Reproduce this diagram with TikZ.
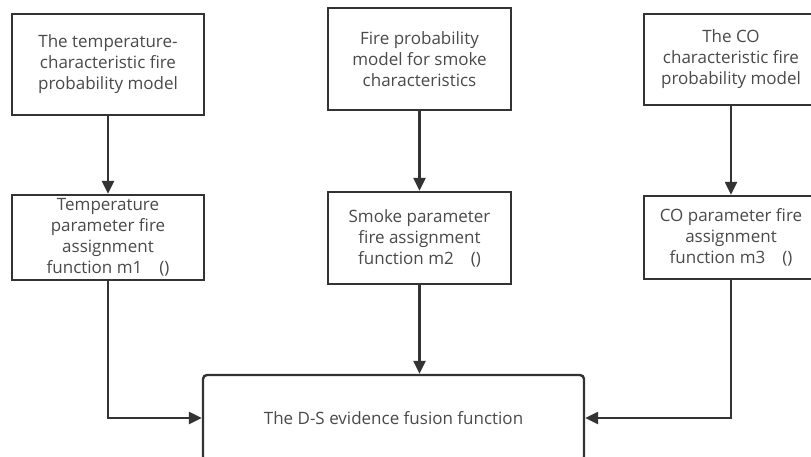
\documentclass[tikz,border=0pt]{standalone}
\usepackage{fontspec}
\setmainfont{Open Sans}
\usepackage{tikz}
\usetikzlibrary{arrows.meta,positioning,calc}

\definecolor{linegray}{HTML}{333333}
\definecolor{textgray}{HTML}{4A4A4A}

\tikzset{
    block/.style={draw=linegray,line width=2.4pt,fill=white,align=center,
        text=textgray,font=\fontsize{17}{21}\selectfont,inner sep=0pt},
    flow/.style={draw=linegray,line width=2.4pt,-{Triangle[length=13pt,width=12pt]}}
}

\begin{document}
\begin{tikzpicture}[x=1pt,y=-1pt]
                \clip (0,0) rectangle (811,457);
                \fill[white] (0,0) rectangle (811,457);
                \node[block,minimum width=192,minimum height=101] (tempmodel) at (108,64.5)
                    {The temperature-\\characteristic fire\\probability model};
                \node[block,minimum width=183,minimum height=102] (smokemodel) at (419.5,59)
                    {Fire probability\\model for smoke\\characteristics};
                \node[block,minimum width=174,minimum height=91] (comodel) at (731,59.5)
                    {The CO\\characteristic fire\\probability model};
                \node[block,minimum width=192,minimum height=85] (tempfunc) at (108,237.5)
                    {Temperature\\parameter fire\\assignment\\function m1\quad()};
                \node[block,minimum width=183,minimum height=92] (smokefunc) at (419.5,238)
                    {Smoke parameter\\fire assignment\\function m2\quad()};
                \node[block,minimum width=174,minimum height=83] (cofunc) at (731,237.5)
                    {CO parameter fire\\assignment\\function m3\quad()};
                \node[block,rounded corners=4pt,minimum width=381,minimum height=86] (fusion) at (393.5,418)
                    {The D-S evidence fusion function};
                \draw[flow] (tempmodel) -- (tempfunc);
                \draw[flow] (smokemodel) -- (smokefunc);
                \draw[flow] (comodel) -- (cofunc);
                \draw[flow] (smokefunc.south) -- (smokefunc.south |- fusion.north);
                \draw[flow] (tempfunc.south) |- (fusion.west);
                \draw[flow] (cofunc.south) |- (fusion.east);
            \end{tikzpicture}
\end{document}
